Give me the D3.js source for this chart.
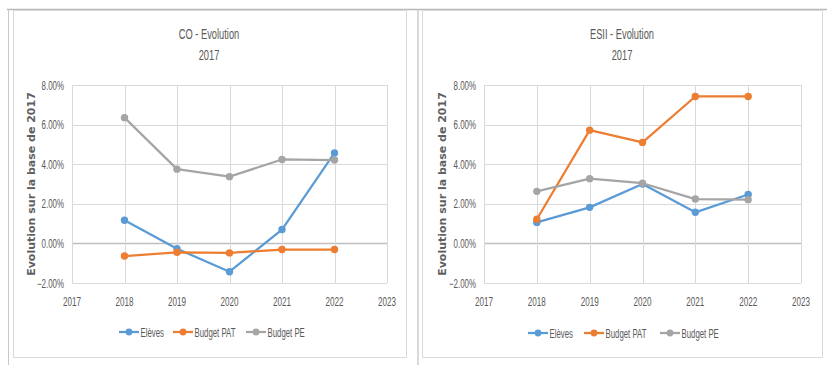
<!DOCTYPE html>
<html>
<head>
<meta charset="utf-8">
<script src="https://cdn.jsdelivr.net/npm/d3@7"></script>
<style>
  html, body { margin: 0; padding: 0; background: #fff; }
  svg { display: block; }
</style>
</head>
<body>
<svg id="chart" width="827" height="365"></svg>
<script>
// Years on the x axis and the tick values of both axes
const years = [2018, 2019, 2020, 2021, 2022];
const xTickValues = [2017, 2018, 2019, 2020, 2021, 2022, 2023];
const yTickValues = [-2, 0, 2, 4, 6, 8];

// Series names and colours
const seriesNames = ["Elèves", "Budget PAT", "Budget PE"];
const seriesColors = ["#5B9BD5", "#ED7D31", "#A5A5A5"];

// CO – evolution in % relative to 2017
const coEleves = [1.17, -0.27, -1.43, 0.70, 4.57];
const coBudgetPAT = [-0.64, -0.45, -0.48, -0.31, -0.31];
const coBudgetPE = [6.35, 3.75, 3.37, 4.24, 4.21];

// ESII – evolution in % relative to 2017
const esiiEleves = [1.06, 1.82, 3.00, 1.57, 2.47];
const esiiBudgetPAT = [1.22, 5.72, 5.10, 7.42, 7.42];
const esiiBudgetPE = [2.63, 3.27, 3.04, 2.24, 2.21];

const yAxisTitle = "Evolution sur la base de 2017";

const svg = d3.select("#chart");
const labelFont = "'Liberation Sans', Arial, sans-serif";

// Text in a condensed face: horizontal squeeze around the anchor point
function narrowText(g, x, y, str, opts) {
  return g.append("text")
    .attr("transform", `translate(${x},${y}) scale(${opts.sx},1)`)
    .attr("text-anchor", opts.anchor || "middle")
    .attr("font-family", labelFont)
    .attr("font-size", opts.size)
    .attr("fill", opts.color || "#595959")
    .text(str);
}

// Outer frame lines shared by both panels
svg.append("line").attr("x1", 7).attr("x2", 827).attr("y1", 9.5).attr("y2", 9.5)
  .attr("stroke", "#B8B8B8").attr("stroke-width", 1.5);
svg.append("line").attr("x1", 8.5).attr("x2", 8.5).attr("y1", 9).attr("y2", 365)
  .attr("stroke", "#C8C8C8").attr("stroke-width", 1);
svg.append("line").attr("x1", 418).attr("x2", 418).attr("y1", 9).attr("y2", 365)
  .attr("stroke", "#C0C0C0").attr("stroke-width", 1.2);

function drawPanel(cfg) {
  const g = svg.append("g");

  // chart area border
  g.append("rect")
    .attr("x", cfg.frame[0] + 0.5).attr("y", cfg.frame[1] + 0.5)
    .attr("width", cfg.frame[2] - cfg.frame[0]).attr("height", cfg.frame[3] - cfg.frame[1])
    .attr("fill", "#fff").attr("stroke", "#DADADA").attr("stroke-width", 1);

  const x = d3.scaleLinear().domain([2017, 2023]).range([cfg.left, cfg.right]);
  const y = d3.scaleLinear().domain([-2, 8]).range([cfg.bottom, cfg.top]);

  // gridlines
  g.selectAll(".hgrid").data(yTickValues).join("line")
    .attr("x1", cfg.left).attr("x2", cfg.right)
    .attr("y1", d => Math.round(y(d)) + 0.5).attr("y2", d => Math.round(y(d)) + 0.5)
    .attr("stroke", d => d === 0 ? "#BFBFBF" : "#D9D9D9").attr("stroke-width", d => d === 0 ? 1.3 : 1);
  g.selectAll(".vgrid").data(xTickValues).join("line")
    .attr("x1", d => Math.round(x(d)) + 0.5).attr("x2", d => Math.round(x(d)) + 0.5)
    .attr("y1", cfg.top).attr("y2", cfg.bottom)
    .attr("stroke", "#D9D9D9").attr("stroke-width", 1);

  // axis tick labels
  yTickValues.forEach(v => {
    narrowText(g, cfg.left - 8, y(v) + 4.5, d3.format(".2f")(v) + "%", { size: 12, sx: 0.66, anchor: "end" });
  });
  xTickValues.forEach(v => {
    narrowText(g, x(v), cfg.bottom + 22.5, String(v), { size: 13.5, sx: 0.6 });
  });

  // titles
  narrowText(g, cfg.titleX, 39, cfg.title, { size: 15, sx: 0.62 });
  narrowText(g, cfg.titleX, 60, "2017", { size: 15, sx: 0.62 });

  // vertical axis title
  g.append("text")
    .attr("transform", `translate(${cfg.yTitleX},${(cfg.top + cfg.bottom) / 2}) rotate(-90)`)
    .attr("text-anchor", "middle")
    .attr("font-family", "'DejaVu Sans', Verdana, sans-serif")
    .attr("font-weight", "bold")
    .attr("font-size", 11)
    .attr("fill", "#5F5F5F")
    .text(yAxisTitle);

  // series lines and markers
  const line = d3.line().x((d, i) => x(years[i])).y(d => y(d));
  cfg.series.forEach((vals, si) => {
    g.append("path").datum(vals)
      .attr("d", line)
      .attr("fill", "none")
      .attr("stroke", seriesColors[si])
      .attr("stroke-width", 2.25)
      .attr("stroke-linejoin", "round");
    g.selectAll(null).data(vals).join("circle")
      .attr("cx", (d, i) => x(years[i]))
      .attr("cy", d => y(d))
      .attr("r", 3.7)
      .attr("fill", seriesColors[si]);
  });

  // legend
  cfg.legend.forEach((lx, si) => {
    const ly = cfg.legendY;
    g.append("line").attr("x1", lx).attr("x2", lx + 20).attr("y1", ly).attr("y2", ly)
      .attr("stroke", seriesColors[si]).attr("stroke-width", 2.25);
    g.append("circle").attr("cx", lx + 10).attr("cy", ly).attr("r", 3.4).attr("fill", seriesColors[si]);
    narrowText(g, lx + 21.5, ly + 4.8, seriesNames[si], { size: 13, sx: 0.6, anchor: "start" });
  });
}

drawPanel({
  title: "CO - Evolution",
  frame: [13, 10, 406, 357],
  left: 72, right: 387, top: 85, bottom: 283,
  titleX: 209, yTitleX: 35,
  legendY: 332, legend: [119, 173, 246],
  series: [coEleves, coBudgetPAT, coBudgetPE]
});

drawPanel({
  title: "ESII - Evolution",
  frame: [422, 10, 822, 357],
  left: 484, right: 801, top: 85, bottom: 283,
  titleX: 622, yTitleX: 446,
  legendY: 333, legend: [528, 584, 660],
  series: [esiiEleves, esiiBudgetPAT, esiiBudgetPE]
});
</script>
</body>
</html>
